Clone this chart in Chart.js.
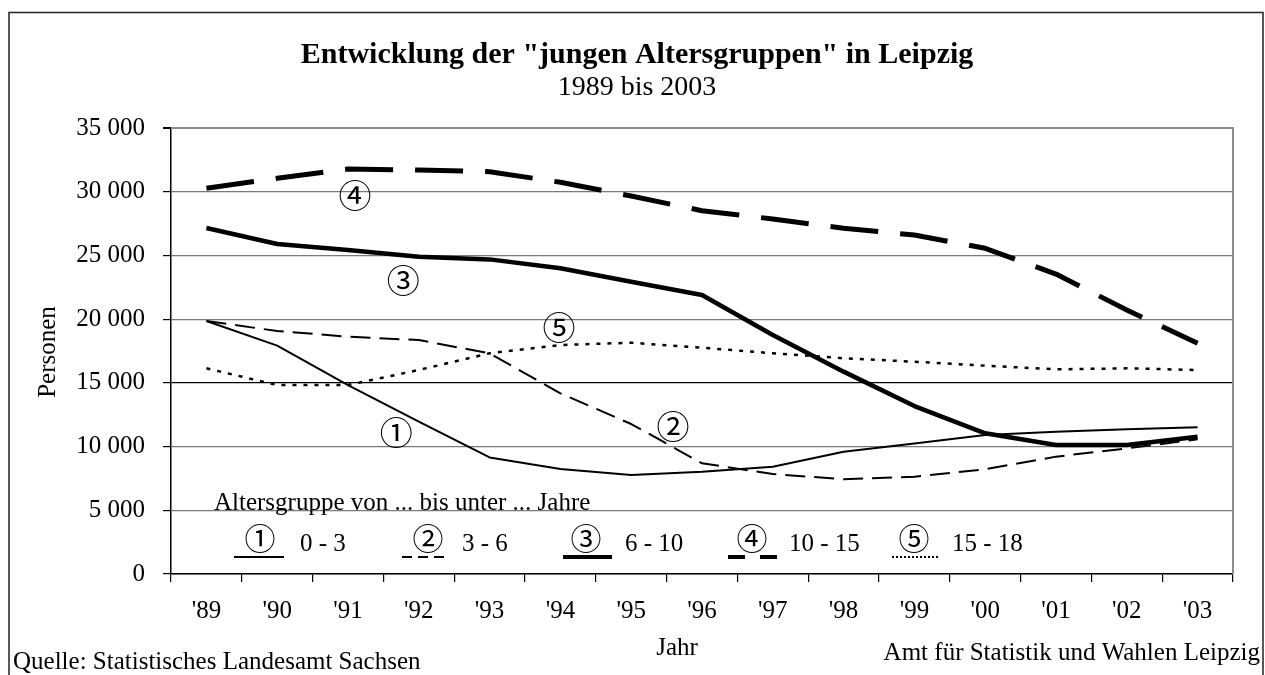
<!DOCTYPE html>
<html>
<head>
<meta charset="utf-8">
<script src="https://cdn.jsdelivr.net/npm/chart.js@4/dist/chart.umd.min.js"></script>
<style>
html,body{margin:0;padding:0;background:#fff;}
canvas{display:block;}
</style>
</head>
<body>
<canvas id="c" width="1265" height="675"></canvas>
<script>
// ---- data ----
const years = ["'89","'90","'91","'92","'93","'94","'95","'96","'97","'98","'99","'00","'01","'02","'03"];
const age0_3   = [19850,17920,14830,11950,9150,8240,7770,8030,8420,9600,10250,10910,11170,11350,11510];
const age3_6   = [19850,19070,18620,18360,17320,14180,11770,8690,7850,7430,7640,8220,9210,9860,10570];
const age6_10  = [27150,25900,25430,24900,24690,23990,22940,21890,18750,15880,13180,11040,10120,10120,10770];
const age10_15 = [30270,31050,31780,31700,31570,30740,29660,28510,27860,27130,26600,25560,23540,20720,18100];
const age15_18 = [16140,14830,14830,16010,17320,17970,18150,17760,17320,16930,16660,16350,16060,16140,16010];
const groupLabels = ['0 - 3','3 - 6','6 - 10','10 - 15','15 - 18'];
const groupMarks  = ['\u2460','\u2461','\u2462','\u2463','\u2464'];
const yTicks = [0,5000,10000,15000,20000,25000,30000,35000];

const SERIF = '"Liberation Serif","Times New Roman",serif';
const CIRC = '"Noto Sans CJK JP","DejaVu Sans",sans-serif';

Chart.defaults.font.family = SERIF;
Chart.defaults.font.size = 25;
Chart.defaults.color = '#000';

const styles = [
  {w:2, dash:[]},
  {w:2, dash:[20,9]},
  {w:4.5, dash:[]},
  {w:5, dash:[48,22]},
  {w:2.5, dash:[4,7]}
];
const series = [age0_3, age3_6, age6_10, age10_15, age15_18];

function fmt(v){ return String(v).replace(/\B(?=(\d{3})+(?!\d))/g,' '); }

const decor = {
  id:'decor',
  afterDraw(chart){
    const ctx = chart.ctx, xs = chart.scales.x, ys = chart.scales.y, a = chart.chartArea;
    ctx.save();
    // outer frame
    ctx.strokeStyle = '#222'; ctx.lineWidth = 1.5;
    ctx.beginPath();
    ctx.moveTo(9, 675); ctx.lineTo(9, 12.5); ctx.lineTo(1263, 12.5); ctx.lineTo(1263, 675);
    ctx.stroke();
    // plot border top/right (grey)
    ctx.strokeStyle = '#8c8c8c'; ctx.lineWidth = 2;
    ctx.beginPath();
    ctx.moveTo(a.left, a.top); ctx.lineTo(a.right, a.top); ctx.lineTo(a.right, a.bottom);
    ctx.stroke();

    ctx.fillStyle = '#000';
    ctx.textAlign = 'center'; ctx.textBaseline = 'middle';
    ctx.font = 'bold 30px ' + SERIF;
    ctx.fillText('Entwicklung der "jungen Altersgruppen" in Leipzig', 637, 55);
    ctx.font = '28px ' + SERIF;
    ctx.fillText('1989 bis 2003', 637, 88);

    // axis titles
    ctx.font = '25px ' + SERIF;
    ctx.fillText('Jahr', 677, 648);
    ctx.save();
    ctx.translate(48, 352); ctx.rotate(-Math.PI/2);
    ctx.fillText('Personen', 0, 0);
    ctx.restore();

    // footers
    ctx.textBaseline = 'alphabetic';
    ctx.textAlign = 'left';
    ctx.fillText('Quelle: Statistisches Landesamt Sachsen', 13, 669);
    ctx.textAlign = 'right';
    ctx.fillText('Amt f\u00fcr Statistik und Wahlen Leipzig', 1260, 660);

    // legend
    ctx.textAlign = 'left';
    ctx.fillText('Altersgruppe von ... bis unter ... Jahre', 214, 510);
    const items = [
      {l:234, r:284, cx:260, tx:300, w:2, dash:[]},
      {l:402, r:448, cx:428, tx:462, w:2, dash:[10,6]},
      {l:563, r:612, cx:586, tx:625, w:4, dash:[]},
      {l:728, r:777, cx:752, tx:789, w:4, dash:[17,15]},
      {l:892, r:938, cx:914, tx:952, w:2, dash:[2,2]}
    ];
    items.forEach((it,i)=>{
      ctx.strokeStyle = '#000'; ctx.lineWidth = it.w; ctx.setLineDash(it.dash);
      ctx.beginPath(); ctx.moveTo(it.l, 557); ctx.lineTo(it.r, 557); ctx.stroke();
      ctx.setLineDash([]);
      ctx.textAlign = 'center'; ctx.textBaseline = 'middle';
      ctx.font = '31px ' + CIRC;
      ctx.fillText(groupMarks[i], it.cx, 538);
      ctx.textAlign = 'left'; ctx.textBaseline = 'alphabetic';
      ctx.font = '25px ' + SERIF;
      ctx.fillText(groupLabels[i], it.tx, 551);
    });

    // series labels on the plot (anchored to data space)
    const anchors = [[2.68,11140],[6.59,11540],[2.78,23070],[2.1,29740],[4.98,19380]];
    ctx.font = '33px ' + CIRC; ctx.textAlign = 'center'; ctx.textBaseline = 'middle';
    anchors.forEach((p,i)=>{
      ctx.fillText(groupMarks[i], xs.getPixelForValue(p[0]), ys.getPixelForValue(p[1]));
    });
    ctx.restore();
  }
};

new Chart(document.getElementById('c'), {
  type:'line',
  data:{
    labels: years,
    datasets: series.map((d,i)=>({
      label: groupLabels[i], data: d,
      borderColor:'#000', backgroundColor:'#000',
      borderWidth: styles[i].w, borderDash: styles[i].dash,
      pointRadius:0, tension:0, fill:false, borderCapStyle:'butt', borderJoinStyle:'round'
    }))
  },
  options:{
    responsive:false, animation:false, devicePixelRatio:1,
    layout:{padding:{left:0,right:32,top:128,bottom:0}},
    plugins:{legend:{display:false}, title:{display:false}, tooltip:{enabled:false}},
    scales:{
      x:{
        offset:true,
        grid:{offset:true, drawOnChartArea:false, tickLength:8, tickColor:'#000', lineWidth:1.2},
        border:{color:'#000', width:1.5},
        ticks:{color:'#000', padding:14, maxRotation:0, autoSkip:false, font:{size:25}},
        afterFit(s){ s.height = 101; }
      },
      y:{
        min:0, max:35000,
        afterBuildTicks(s){ s.ticks = yTicks.map(v=>({value:v})); },
        ticks:{color:'#000', padding:18, font:{size:25}, callback:(v)=>fmt(v)},
        grid:{
          color:(c)=> c.tick && c.tick.value===15000 ? '#000' : '#7a7a7a',
          lineWidth:(c)=> c.tick && c.tick.value===35000 ? 2 : 1.2,
          tickLength:8, tickColor:'#000'
        },
        border:{color:'#000', width:1.5},
        afterFit(s){ s.width = 171; }
      }
    }
  },
  plugins:[decor]
});
</script>
</body>
</html>
